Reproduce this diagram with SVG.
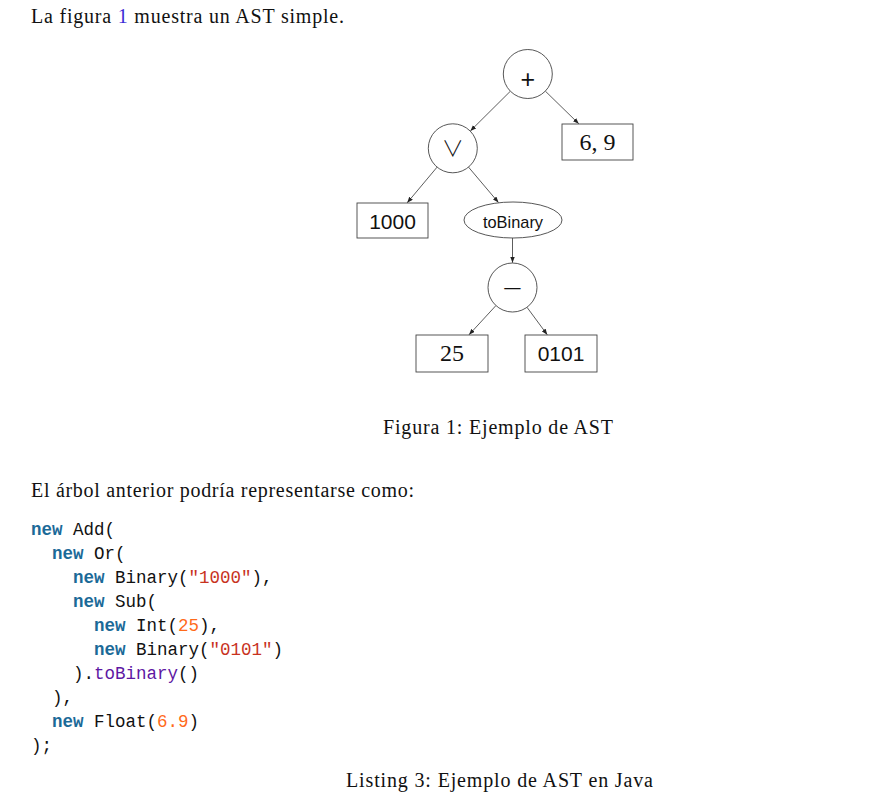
<svg xmlns="http://www.w3.org/2000/svg" width="886" height="797" viewBox="0 0 886 797">
<style>
.prose{font-family:"Liberation Serif","Times New Roman",serif;font-size:20px;fill:#111}
.code{font-family:"Liberation Mono","Courier New",monospace;font-size:17.5px;fill:#111;white-space:pre}
.kw{fill:#1b6a98;font-weight:bold}
.str{fill:#c8321e}
.num{fill:#ff6a1a}
.fn{fill:#5e17a3}
.node{fill:#fff;stroke:#444;stroke-width:0.9}
.edge{stroke:#333;stroke-width:0.8;fill:none;marker-end:url(#arr)}
.sans{font-family:"Liberation Sans",Arial,sans-serif;fill:#111;text-anchor:middle}
.serif{font-family:"Liberation Serif","Times New Roman",serif;fill:#111;text-anchor:middle}
.dj{font-family:"DejaVu Sans",sans-serif;fill:#111;text-anchor:middle;font-weight:200}
.or{font-family:"Noto Sans CJK JP","DejaVu Sans",sans-serif;fill:#111;text-anchor:middle;font-weight:300}
</style>
<defs>
<marker id="arr" markerUnits="userSpaceOnUse" markerWidth="7" markerHeight="5" refX="6" refY="2.3" orient="auto">
<path d="M0,0 L6,2.3 L0,4.6 z" fill="#222"/>
</marker>
</defs>
<rect width="886" height="797" fill="#fff"/>

<text class="prose" x="31" y="23" textLength="313" lengthAdjust="spacing">La figura <tspan fill="#3b2bd6">1</tspan> muestra un AST simple.</text>

<g id="connectors">
<line class="edge" x1="510.4" y1="91.2" x2="470.4" y2="130.9"/>
<line class="edge" x1="545.3" y1="91.1" x2="578.8" y2="123.8"/>
<line class="edge" x1="437.1" y1="167.1" x2="407.2" y2="202.8"/>
<line class="edge" x1="468.5" y1="167.1" x2="498.5" y2="202.6"/>
<line class="edge" x1="512.5" y1="238" x2="512.5" y2="262.8"/>
<line class="edge" x1="495.9" y1="305.6" x2="469" y2="334.8"/>
<line class="edge" x1="527" y1="307.3" x2="547.3" y2="334.8"/>
</g>

<g id="n-add">
<circle class="node" cx="527.8" cy="74" r="24.5"/>
<text class="sans" x="527.8" y="88" font-size="25">+</text>
</g>
<g id="n-or">
<circle class="node" cx="452.8" cy="148.3" r="24.5"/>
<text class="or" x="452.8" y="156" font-size="22">∨</text>
</g>
<g id="n-float">
<rect class="node" x="562" y="124" width="71" height="36"/>
<text class="serif" x="597.5" y="149.5" font-size="24">6, 9</text>
</g>
<g id="n-1000">
<rect class="node" x="357" y="203" width="71" height="35"/>
<text class="sans" x="392.5" y="229" font-size="21">1000</text>
</g>
<g id="n-tobinary">
<ellipse class="node" cx="513" cy="220" rx="49" ry="18"/>
<text class="sans" x="513" y="227.5" font-size="16.4">toBinary</text>
</g>
<g id="n-sub">
<circle class="node" cx="512.5" cy="287.5" r="24.5"/>
<text class="dj" x="512.5" y="297" font-size="26">−</text>
</g>
<g id="n-25">
<rect class="node" x="416" y="335" width="72" height="37"/>
<text class="serif" x="452" y="361" font-size="24">25</text>
</g>
<g id="n-0101">
<rect class="node" x="525" y="335" width="72" height="37"/>
<text class="sans" x="561" y="360.5" font-size="21">0101</text>
</g>

<text class="prose" x="383" y="434" textLength="230" lengthAdjust="spacing">Figura 1: Ejemplo de AST</text>
<text class="prose" x="31" y="497" textLength="383" lengthAdjust="spacing">El árbol anterior podría representarse como:</text>

<g id="code">
<text class="code" x="31" y="535" xml:space="preserve"><tspan class="kw">new</tspan> Add(</text>
<text class="code" x="52" y="559" xml:space="preserve"><tspan class="kw">new</tspan> Or(</text>
<text class="code" x="73" y="583" xml:space="preserve"><tspan class="kw">new</tspan> Binary(<tspan class="str">"1000"</tspan>),</text>
<text class="code" x="73" y="607" xml:space="preserve"><tspan class="kw">new</tspan> Sub(</text>
<text class="code" x="94" y="631" xml:space="preserve"><tspan class="kw">new</tspan> Int(<tspan class="num">25</tspan>),</text>
<text class="code" x="94" y="655" xml:space="preserve"><tspan class="kw">new</tspan> Binary(<tspan class="str">"0101"</tspan>)</text>
<text class="code" x="73" y="679" xml:space="preserve">).<tspan class="fn">toBinary</tspan>()</text>
<text class="code" x="52" y="703" xml:space="preserve">),</text>
<text class="code" x="52" y="727" xml:space="preserve"><tspan class="kw">new</tspan> Float(<tspan class="num">6.9</tspan>)</text>
<text class="code" x="31" y="751" xml:space="preserve">);</text>
</g>

<text class="prose" x="346" y="787" textLength="307" lengthAdjust="spacing">Listing 3: Ejemplo de AST en Java</text>
</svg>
